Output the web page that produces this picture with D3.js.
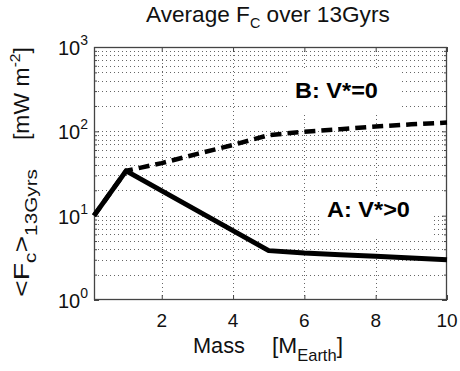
<!DOCTYPE html>
<html><head><meta charset="utf-8">
<script src="https://cdn.jsdelivr.net/npm/d3@7"></script>
<style>body{margin:0;background:#fff}svg{display:block;font-family:"Liberation Sans",Arial,sans-serif}</style>
</head><body><svg id="c" width="460" height="371"></svg>
<script>
const massA = [0.1, 1, 5, 6, 7, 8, 9, 10];
const fluxA = [10, 34, 3.85, 3.6, 3.45, 3.3, 3.15, 3.0];
const massB = [0.1, 1, 2, 3, 4, 5, 6, 7, 8, 9, 10];
const fluxB = [10, 34, 42, 54, 69, 90, 99, 106, 114, 121, 127];
const xTicks = [2, 4, 6, 8, 10];
const yTicks = [1, 10, 100, 1000];
const yTickExp = ["0", "1", "2", "3"];

const svg = d3.select("#c");
const L = 94, R = 447, T = 47, B = 300;
const x = d3.scaleLinear().domain([0.1, 10]).range([L, R]);
const y = d3.scaleLog().domain([1, 1000]).range([B, T]);

const minor = [];
for (let d = 1; d < 1000; d *= 10) for (let k = 2; k <= 9; k++) minor.push(d * k);

const grid = svg.append("g").attr("stroke", "#666").attr("stroke-width", 1).attr("stroke-dasharray", "1,3");
grid.selectAll(".gy").data(minor.concat([10, 100])).join("line")
  .attr("x1", L).attr("x2", R).attr("y1", d => Math.round(y(d)) + 0.5).attr("y2", d => Math.round(y(d)) + 0.5);
grid.selectAll(".gx").data([2, 4, 6, 8]).join("line")
  .attr("y1", T).attr("y2", B).attr("x1", d => Math.round(x(d)) + 0.5).attr("x2", d => Math.round(x(d)) + 0.5);

svg.append("rect").attr("x", 288).attr("y", 68).attr("width", 114).attr("height", 44).attr("fill", "#fff");
svg.append("rect").attr("x", 320).attr("y", 196).attr("width", 113).attr("height", 41).attr("fill", "#fff");

const axCol = "#444";
const gB = svg.append("g").attr("transform", `translate(0,${B})`).call(d3.axisBottom(x).tickValues(xTicks).tickSize(-5).tickSizeOuter(0).tickFormat(""));
const gT = svg.append("g").attr("transform", `translate(0,${T})`).call(d3.axisTop(x).tickValues(xTicks).tickSize(-5).tickSizeOuter(0).tickFormat(""));
const gL = svg.append("g").attr("transform", `translate(${L},0)`).call(d3.axisLeft(y).tickValues(yTicks).tickSize(-5).tickSizeOuter(0).tickFormat(""));
const gR = svg.append("g").attr("transform", `translate(${R},0)`).call(d3.axisRight(y).tickValues(yTicks).tickSize(-5).tickSizeOuter(0).tickFormat(""));
const gLm = svg.append("g").attr("transform", `translate(${L},0)`).call(d3.axisLeft(y).tickValues(minor).tickSize(-3).tickSizeOuter(0).tickFormat(""));
const gRm = svg.append("g").attr("transform", `translate(${R},0)`).call(d3.axisRight(y).tickValues(minor).tickSize(-3).tickSizeOuter(0).tickFormat(""));
[gB, gT, gL, gR, gLm, gRm].forEach(g => { g.select(".domain").remove(); g.selectAll("line").attr("stroke", axCol); });
svg.append("rect").attr("x", L + 0.5).attr("y", T + 0.5).attr("width", R - L - 1).attr("height", B - T - 1)
  .attr("fill", "none").attr("stroke", axCol).attr("stroke-width", 1.3);

const line = d3.line().x(d => x(d[0])).y(d => y(d[1]));
svg.append("path").datum(massA.map((m, i) => [m, fluxA[i]])).attr("d", line)
  .attr("fill", "none").attr("stroke", "#000").attr("stroke-width", 5).attr("stroke-linejoin", "round");
svg.append("path").datum(massB.map((m, i) => [m, fluxB[i]])).attr("d", line)
  .attr("fill", "none").attr("stroke", "#000").attr("stroke-width", 4.5).attr("stroke-dasharray", "11,6");

function fit(t, w) {
  const bw = t.node().getBBox().width;
  return bw > 0 ? w / bw : 1;
}

const lb = svg.append("text").attr("font-size", 22).attr("font-weight", "bold").text("B: V*=0");
lb.attr("transform", `translate(295,98) scale(${fit(lb, 83)},1)`);
const la = svg.append("text").attr("font-size", 22).attr("font-weight", "bold").text("A: V*>0");
la.attr("transform", `translate(327,217) scale(${fit(la, 83)},1)`);

svg.selectAll(".xl").data(xTicks).join("text").attr("x", d => x(d)).attr("y", 327)
  .attr("text-anchor", "middle").attr("font-size", 19).attr("fill", "#111").text(d => d);
yTicks.forEach((v, i) => {
  const t = svg.append("text").attr("x", 88).attr("y", y(v) + 8).attr("text-anchor", "end").attr("font-size", 20).attr("fill", "#111");
  t.append("tspan").text("10");
  t.append("tspan").attr("dy", -10).attr("font-size", 14).text(yTickExp[i]);
});

// title
const title = svg.append("text").attr("font-size", 22).attr("fill", "#111");
title.append("tspan").text("Average F");
title.append("tspan").attr("dy", 6).attr("font-size", 14).text("C");
title.append("tspan").attr("dy", -6).text(" over 13Gyrs");
title.attr("transform", `translate(146,22) scale(${fit(title, 244)},1)`);

// x label
const xm = svg.append("text").attr("font-size", 22).attr("fill", "#111").text("Mass");
xm.attr("transform", `translate(193,353) scale(${fit(xm, 52)},1)`);
const xe = svg.append("text").attr("font-size", 22).attr("fill", "#111");
xe.append("tspan").text("[M");
xe.append("tspan").attr("dy", 8).attr("font-size", 16).text("Earth");
xe.append("tspan").attr("dy", -8).text("]");
xe.attr("transform", `translate(272,353) scale(${fit(xe, 71)},1)`);

// y label
const y1 = svg.append("text").attr("font-size", 22).attr("fill", "#111");
y1.append("tspan").text("<F");
y1.append("tspan").attr("dy", 7).attr("font-size", 16).text("c");
y1.append("tspan").attr("dy", -7).text(">");
y1.append("tspan").attr("dy", 8).attr("font-size", 16).text("13Gyrs");
y1.attr("transform", `translate(29,297) rotate(-90) scale(${fit(y1, 128)},1)`);
const y2 = svg.append("text").attr("font-size", 22).attr("fill", "#111");
y2.append("tspan").text("[mW m");
y2.append("tspan").attr("dy", -9).attr("font-size", 15).text("-2");
y2.append("tspan").attr("dy", 9).text("]");
y2.attr("transform", `translate(29,140) rotate(-90) scale(${fit(y2, 93)},1)`);
</script></body></html>
